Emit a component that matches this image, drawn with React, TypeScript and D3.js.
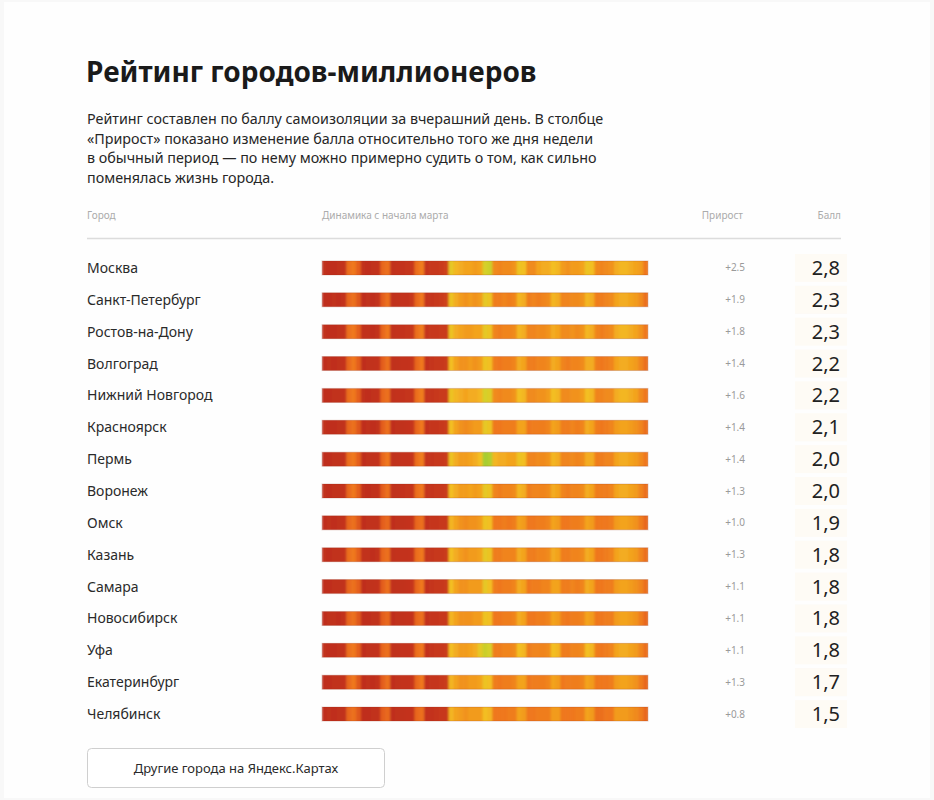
import React from "react";
import * as d3 from "d3";

const cities = [
  "Москва", "Санкт-Петербург", "Ростов-на-Дону", "Волгоград", "Нижний Новгород",
  "Красноярск", "Пермь", "Воронеж", "Омск", "Казань", "Самара", "Новосибирск",
  "Уфа", "Екатеринбург", "Челябинск",
];

const growth = ["+2.5", "+1.9", "+1.8", "+1.4", "+1.6", "+1.4", "+1.4", "+1.3", "+1.0", "+1.3", "+1.1", "+1.1", "+1.1", "+1.3", "+0.8"];
const score = ["2,8", "2,3", "2,3", "2,2", "2,2", "2,1", "2,0", "2,0", "1,9", "1,8", "1,8", "1,8", "1,8", "1,7", "1,5"];

// daily index, 2 March – 7 May
const moscow = [1.1,1.0,1.0,1.1,1.2, 2.2,2.3,2.0, 1.1,1.0,1.1,1.2, 2.1,2.2, 1.1,1.2,1.2,1.3,1.4, 2.2,2.4, 1.3,1.4,1.4,1.5,1.6, 3.4,3.1, 3.0,2.9,2.9,2.8,2.9, 3.6,3.7, 2.6,2.5,2.6,2.6,2.7, 3.3,3.2, 2.6,2.6,2.9,3.0,3.0, 3.2,3.1, 2.8,2.7,2.8,2.8,2.9, 3.3,3.2, 2.6,2.5,2.6,2.7, 3.0,3.1,3.1,3.0,2.9, 2.8,2.3];
const spb = [1.0,1.0,1.1,1.0,1.2, 2.1,2.2,1.9, 1.0,1.1,1.0,1.2, 2.0,2.2, 1.1,1.1,1.2,1.2,1.4, 2.1,2.3, 1.3,1.3,1.4,1.5,1.6, 3.3,3.0, 2.8,2.7,2.8,2.7,2.8, 3.4,3.3, 2.4,2.4,2.5,2.4,2.5, 3.1,3.0, 2.4,2.5,2.4,2.5,2.6, 3.1,3.0, 2.5,2.5,2.6,2.6,2.7, 3.1,3.0, 2.4,2.4,2.5,2.6, 2.9,3.0,3.0,2.9,2.8, 2.6,2.2];
const rostov = [1.1,1.0,1.0,1.1,1.2, 2.2,2.3,2.0, 1.1,1.1,1.0,1.2, 2.1,2.3, 1.1,1.2,1.2,1.3,1.4, 2.2,2.4, 1.3,1.4,1.4,1.5,1.5, 3.3,3.0, 2.9,2.8,2.8,2.9,2.9, 3.4,3.3, 2.5,2.4,2.5,2.5,2.6, 3.1,3.0, 2.5,2.5,2.6,2.6,2.7, 3.0,2.9, 2.6,2.6,2.7,2.6,2.7, 3.1,3.0, 2.5,2.4,2.5,2.6, 3.0,3.1,3.1,3.0,2.9, 2.7,2.3];
const volgograd = [1.0,1.1,1.0,1.1,1.2, 2.1,2.3,2.0, 1.0,1.1,1.1,1.2, 2.0,2.2, 1.1,1.1,1.2,1.2,1.3, 2.1,2.3, 1.2,1.3,1.4,1.4,1.5, 3.2,2.9, 2.7,2.7,2.8,2.7,2.8, 3.3,3.2, 2.4,2.3,2.4,2.4,2.5, 3.0,2.9, 2.4,2.4,2.5,2.5,2.6, 3.0,2.9, 2.5,2.4,2.5,2.5,2.6, 3.0,3.0, 2.4,2.3,2.4,2.5, 2.9,3.0,3.0,2.9,2.8, 2.5,2.2];
const nizhny = [1.0,1.0,1.1,1.1,1.2, 2.2,2.3,2.0, 1.1,1.0,1.1,1.2, 2.1,2.2, 1.1,1.2,1.2,1.3,1.3, 2.2,2.4, 1.3,1.3,1.4,1.5,1.5, 3.3,3.1, 3.0,2.9,3.0,3.0,3.1, 3.6,3.5, 2.6,2.5,2.6,2.6,2.7, 3.2,3.1, 2.6,2.6,2.7,2.7,2.8, 3.2,3.1, 2.6,2.6,2.7,2.7,2.8, 3.2,3.1, 2.5,2.5,2.6,2.6, 3.0,3.1,3.1,3.0,2.9, 2.6,2.3];
const krasnoyarsk = [1.1,1.0,1.0,1.1,1.1, 2.1,2.2,1.9, 1.0,1.1,1.0,1.1, 2.0,2.2, 1.0,1.1,1.1,1.2,1.3, 2.1,2.3, 1.2,1.3,1.3,1.4,1.5, 3.2,2.9, 2.7,2.6,2.7,2.8,2.8, 3.4,3.3, 2.3,2.3,2.4,2.4,2.4, 2.9,2.9, 2.3,2.4,2.4,2.4,2.5, 2.9,2.8, 2.4,2.4,2.5,2.4,2.5, 3.0,2.9, 2.4,2.3,2.4,2.5, 2.8,2.9,2.9,2.8,2.7, 2.5,2.2];
const perm = [1.0,1.0,1.1,1.1,1.2, 2.2,2.3,2.0, 1.0,1.1,1.1,1.2, 2.1,2.3, 1.1,1.1,1.2,1.2,1.3, 2.2,2.4, 1.3,1.3,1.4,1.4,1.5, 3.3,3.0, 2.8,2.8,2.9,3.0,3.2, 4.0,3.9, 3.1,3.0,3.0,2.9,2.9, 3.3,3.2, 2.5,2.5,2.6,2.6,2.7, 3.1,3.0, 2.5,2.5,2.6,2.5,2.6, 3.0,3.0, 2.4,2.4,2.5,2.5, 2.9,3.0,3.0,2.9,2.8, 2.6,2.3];
const voronezh = [1.1,1.0,1.1,1.1,1.2, 2.1,2.3,2.0, 1.1,1.0,1.1,1.2, 2.0,2.2, 1.1,1.1,1.2,1.3,1.3, 2.2,2.3, 1.3,1.3,1.4,1.4,1.5, 3.2,3.0, 2.8,2.8,2.9,2.8,2.9, 3.4,3.3, 2.5,2.4,2.5,2.5,2.6, 3.1,3.0, 2.4,2.5,2.5,2.5,2.6, 3.0,2.9, 2.5,2.4,2.5,2.5,2.6, 3.0,2.9, 2.4,2.4,2.4,2.5, 2.9,3.0,3.0,2.9,2.8, 2.5,2.2];
const omsk = [1.0,1.1,1.0,1.1,1.2, 2.1,2.2,1.9, 1.0,1.1,1.1,1.1, 2.0,2.1, 1.0,1.1,1.1,1.2,1.3, 2.1,2.2, 1.2,1.3,1.3,1.4,1.4, 3.1,2.9, 2.7,2.6,2.7,2.7,2.8, 3.3,3.2, 2.3,2.3,2.4,2.3,2.4, 2.9,2.8, 2.3,2.3,2.4,2.4,2.5, 2.9,2.8, 2.3,2.3,2.4,2.4,2.5, 2.9,2.8, 2.3,2.3,2.3,2.4, 2.8,2.9,2.9,2.8,2.7, 2.4,2.1];
const kazan = [1.1,1.0,1.1,1.1,1.2, 2.2,2.3,2.0, 1.1,1.1,1.0,1.2, 2.1,2.2, 1.1,1.2,1.2,1.2,1.3, 2.2,2.3, 1.3,1.3,1.4,1.4,1.5, 3.2,3.0, 2.8,2.7,2.8,2.8,2.9, 3.4,3.3, 2.4,2.4,2.5,2.5,2.5, 3.0,2.9, 2.4,2.4,2.5,2.5,2.6, 3.0,2.9, 2.4,2.4,2.5,2.5,2.6, 3.0,2.9, 2.3,2.3,2.4,2.5, 2.9,3.0,3.0,2.9,2.8, 2.5,2.2];
const samara = [1.0,1.0,1.1,1.1,1.1, 2.1,2.2,2.0, 1.0,1.1,1.1,1.2, 2.0,2.2, 1.1,1.1,1.1,1.2,1.3, 2.1,2.3, 1.2,1.3,1.4,1.4,1.5, 3.2,2.9, 2.7,2.7,2.8,2.8,2.8, 3.4,3.2, 2.4,2.3,2.4,2.4,2.5, 3.0,2.9, 2.3,2.4,2.4,2.5,2.5, 2.9,2.9, 2.4,2.4,2.5,2.4,2.5, 3.0,2.9, 2.3,2.3,2.4,2.4, 2.8,2.9,2.9,2.8,2.7, 2.5,2.2];
const novosibirsk = [1.0,1.1,1.1,1.0,1.2, 2.1,2.2,1.9, 1.0,1.0,1.1,1.1, 2.0,2.1, 1.0,1.1,1.1,1.2,1.2, 2.1,2.2, 1.2,1.3,1.3,1.4,1.4, 3.1,2.9, 2.7,2.7,2.7,2.8,2.8, 3.3,3.2, 2.3,2.3,2.4,2.4,2.5, 3.0,2.9, 2.3,2.3,2.4,2.4,2.5, 2.9,2.8, 2.4,2.3,2.4,2.4,2.5, 2.9,2.8, 2.3,2.3,2.4,2.4, 2.8,2.9,2.9,2.8,2.7, 2.4,2.1];
const ufa = [1.1,1.0,1.0,1.1,1.2, 2.2,2.3,2.0, 1.0,1.1,1.1,1.2, 2.1,2.2, 1.1,1.1,1.2,1.2,1.3, 2.2,2.3, 1.2,1.3,1.4,1.4,1.5, 3.2,3.0, 2.8,2.8,2.9,3.0,3.4, 3.7,3.6, 2.4,2.4,2.5,2.5,2.6, 3.2,3.1, 2.4,2.5,2.5,2.5,2.6, 3.2,3.1, 2.4,2.4,2.5,2.5,2.6, 3.2,3.1, 2.4,2.3,2.4,2.5, 2.9,3.0,3.0,2.9,2.8, 2.5,2.2];
const ekaterinburg = [1.0,1.0,1.1,1.1,1.2, 2.1,2.3,1.9, 1.0,1.1,1.0,1.2, 2.0,2.2, 1.0,1.1,1.2,1.2,1.3, 2.1,2.3, 1.2,1.3,1.3,1.4,1.5, 3.1,2.9, 2.7,2.7,2.8,2.8,2.9, 3.3,3.2, 2.4,2.3,2.4,2.4,2.5, 2.9,2.9, 2.3,2.4,2.4,2.4,2.5, 2.9,2.8, 2.3,2.4,2.4,2.4,2.5, 2.9,2.8, 2.3,2.3,2.3,2.4, 2.8,2.9,2.9,2.8,2.7, 2.4,2.1];
const chelyabinsk = [1.0,1.1,1.0,1.1,1.1, 2.1,2.2,1.9, 1.0,1.0,1.1,1.1, 2.0,2.1, 1.0,1.1,1.1,1.2,1.2, 2.1,2.2, 1.2,1.2,1.3,1.4,1.4, 3.1,2.9, 2.8,2.7,2.8,2.8,2.8, 3.2,3.1, 2.3,2.3,2.3,2.4,2.4, 2.9,2.8, 2.3,2.3,2.4,2.4,2.4, 2.8,2.8, 2.3,2.3,2.3,2.4,2.4, 2.9,2.8, 2.2,2.2,2.3,2.3, 2.8,2.8,2.8,2.7,2.6, 2.4,2.1];

const series = [moscow, spb, rostov, volgograd, nizhny, krasnoyarsk, perm, voronezh, omsk, kazan, samara, novosibirsk, ufa, ekaterinburg, chelyabinsk];

const colorStops = [1.0, 1.5, 2.0, 2.3, 2.6, 2.9, 3.2, 3.6, 4.0];
const colorRange = ["#bf2e1c", "#c93a1c", "#e45f1e", "#ef771f", "#f08a1d", "#f3a31f", "#f3bf22", "#d6d02a", "#a6cd30"];

const W = 934;
const H = 800;
const FONT = "'Noto Sans', 'Open Sans', sans-serif";

export default function App() {
  const nDays = moscow.length;
  const x = d3.scaleBand<number>().domain(d3.range(nDays)).range([322, 648]).padding(0);
  const y = d3.scaleBand<string>().domain(cities).range([252, 730]).padding(0);
  const color = d3.scaleLinear<string>().domain(colorStops).range(colorRange).interpolate(d3.interpolateRgb).clamp(true);
  const barH = 14;

  const para = [
    "Рейтинг составлен по баллу самоизоляции за вчерашний день. В столбце",
    "«Прирост» показано изменение балла относительно того же дня недели",
    "в обычный период — по нему можно примерно судить о том, как сильно",
    "поменялась жизнь города.",
  ];

  return (
    <svg width={W} height={H} style={{ position: "absolute", left: 0, top: 0, display: "block" }} fontFamily={FONT}>
      <defs>
        <filter id="soft" x="-2%" y="-20%" width="104%" height="140%">
          <feGaussianBlur stdDeviation="1.0 0.2" />
        </filter>
        {cities.map((c, i) => {
          const cy = (y(c) as number) + y.bandwidth() / 2;
          return (
            <clipPath id={`clip${i}`} key={c}>
              <rect x={322} y={cy - barH / 2} width={326} height={barH} />
            </clipPath>
          );
        })}
      </defs>
      <rect x={0} y={0} width={W} height={H} fill="#f8f8f8" />
      <rect x={4} y={2} width={W - 8} height={H - 4} fill="#fefefe" />

      <text x={86} y={82} fontSize={28} fontWeight={700} fill="#1a1a1a">Рейтинг городов-миллионеров</text>
      {para.map((t, i) => (
        <text key={i} x={87} y={124 + i * 19.7} fontSize={14.3} fill="#262626">{t}</text>
      ))}

      <text x={87} y={219} fontSize={10} fill="#ababab">Город</text>
      <text x={322} y={219} fontSize={10} fill="#ababab">Динамика с начала марта</text>
      <text x={743} y={219} fontSize={10} fill="#ababab" textAnchor="end">Прирост</text>
      <text x={841} y={219} fontSize={10} fill="#ababab" textAnchor="end">Балл</text>
      <line x1={87} x2={841} y1={238.5} y2={238.5} stroke="#dcdcdc" strokeWidth={1.5} />

      {cities.map((c, i) => {
        const cy = (y(c) as number) + y.bandwidth() / 2;
        return (
          <g key={c}>
            <rect x={795} y={cy - 14} width={52} height={28} fill="#fdf8ee" opacity={0.6} />
            <text x={87} y={cy + 5} fontSize={14} fill="#2a2a2a">{c}</text>
            <g clipPath={`url(#clip${i})`}>
              <g filter="url(#soft)">
                {series[i].map((v, d) => (
                  <rect key={d} x={x(d)} y={cy - barH / 2 - 1} width={x.bandwidth() + 0.6} height={barH + 2} fill={color(v)} />
                ))}
              </g>
            </g>
            <rect x={322} y={cy - barH / 2} width={326} height={barH} fill="none" stroke="#8a2a10" strokeOpacity={0.22} strokeWidth={1} />
            <text x={745} y={cy + 3.5} fontSize={10} fill="#9a9a9a" textAnchor="end">{growth[i]}</text>
            <text x={840} y={cy + 7} fontSize={20} fill="#222" textAnchor="end">{score[i]}</text>
          </g>
        );
      })}

      <rect x={87.5} y={748.5} width={297} height={39} rx={4} fill="#ffffff" stroke="#cfcfcf" strokeWidth={1} />
      <text x={236} y={773} fontSize={13} fill="#2a2a2a" textAnchor="middle">Другие города на Яндекс.Картах</text>
    </svg>
  );
}
